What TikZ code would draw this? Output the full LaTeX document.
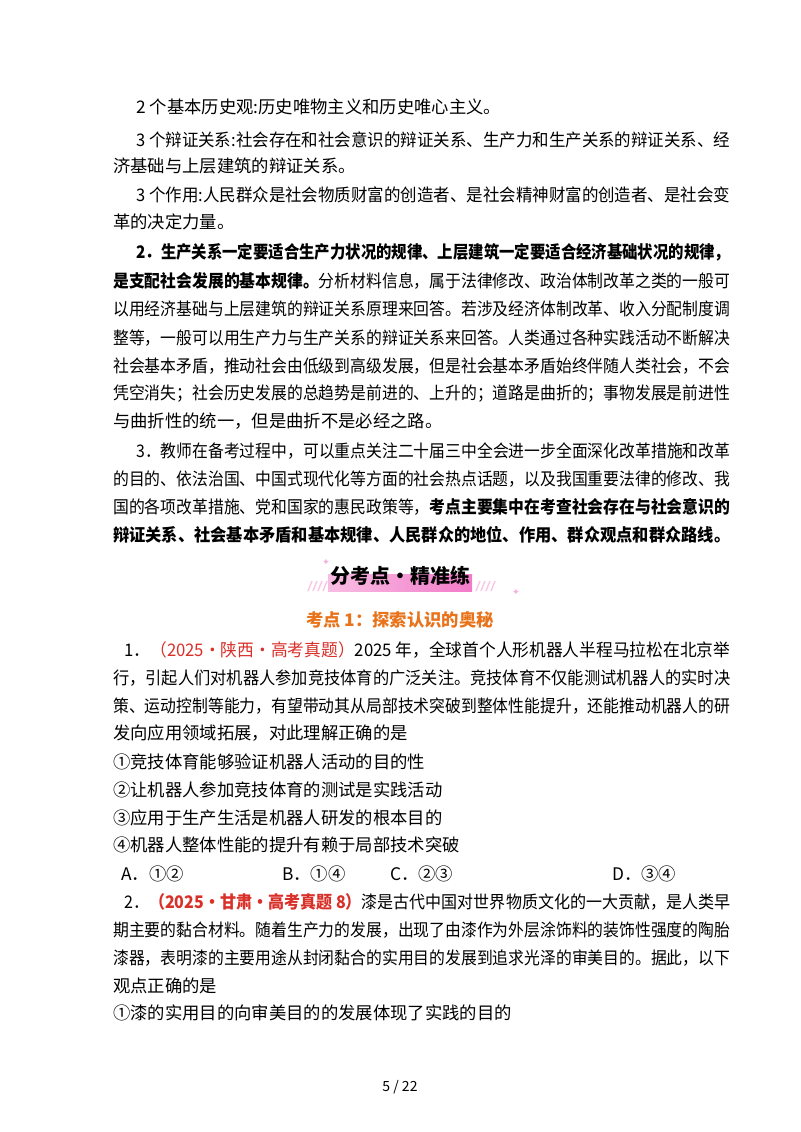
\documentclass[tikz,border=0pt]{standalone}
\usepackage{fontspec}
\setmainfont{Noto Sans CJK SC}
\newfontfamily\dejavu{DejaVu Sans}
\newcommand\fitA[1]{\resizebox{462.75pt}{\height}{#1}}
\newcommand\fitB[1]{\resizebox{445.5pt}{\height}{#1}}
\newcommand\fitC[1]{\resizebox{454.5pt}{\height}{#1}}
\begin{document}
\begin{tikzpicture}[x=0.75pt,y=-0.75pt,
  ln/.style={anchor=west,inner sep=0pt,font=\fontsize{13}{14}\selectfont},
  bl/.style={ln,font=\fontsize{13}{14}\selectfont\bfseries}]
\definecolor{org}{HTML}{E8731A}
\definecolor{rd}{HTML}{D9302A}
\definecolor{pk}{HTML}{F27BC8}
\useasboundingbox[fill=white] (0,0) rectangle (800,1132);
\node[ln] (l1) at (136,107) {2 个基本历史观:历史唯物主义和历史唯心主义。};
\node[ln] (l2) at (136,140) {\fitB{3 个辩证关系:社会存在和社会意识的辩证关系、生产力和生产关系的辩证关系、经}};
\node[ln] (l3) at (113,166) {济基础与上层建筑的辩证关系。};
\node[ln] (l4) at (136,195) {\fitB{3 个作用:人民群众是社会物质财富的创造者、是社会精神财富的创造者、是社会变}};
\node[ln] (l5) at (113,222) {革的决定力量。};
\node[bl] (l6) at (136,252) {\fitB{2．生产关系一定要适合生产力状况的规律、上层建筑一定要适合经济基础状况的规律，}};
\node[ln] (l7) at (113,281) {\fitA{\textbf{是支配社会发展的基本规律。}分析材料信息，属于法律修改、政治体制改革之类的一般可}};
\node[ln] (l8) at (113,309) {\fitA{以用经济基础与上层建筑的辩证关系原理来回答。若涉及经济体制改革、收入分配制度调}};
\node[ln] (l9) at (113,338) {\fitA{整等，一般可以用生产力与生产关系的辩证关系来回答。人类通过各种实践活动不断解决}};
\node[ln] (l10) at (113,366) {\fitA{社会基本矛盾，推动社会由低级到高级发展，但是社会基本矛盾始终伴随人类社会，不会}};
\node[ln] (l11) at (113,394) {\fitA{凭空消失；社会历史发展的总趋势是前进的、上升的；道路是曲折的；事物发展是前进性}};
\node[ln] (l12) at (113,421) {与曲折性的统一，但是曲折不是必经之路。};
\node[ln] (l13) at (136,451) {\fitB{3．教师在备考过程中，可以重点关注二十届三中全会进一步全面深化改革措施和改革}};
\node[ln] (l14) at (113,479) {\fitA{的目的、依法治国、中国式现代化等方面的社会热点话题，以及我国重要法律的修改、我}};
\node[ln] (l15) at (113,507) {\fitA{国的各项改革措施、党和国家的惠民政策等，\textbf{考点主要集中在考查社会存在与社会意识的}}};
\node[bl] (l16) at (113,535) {\fitA{辩证关系、社会基本矛盾和基本规律、人民群众的地位、作用、群众观点和群众路线。}};
% banner
\shade[left color=pk!50, right color=pk] (328,574) rectangle (472,591);
\foreach \i in {0,5,10,15} {\draw[pk!45,line width=1pt] (308+\i,591) -- (312+\i,581); \draw[pk!45,line width=1pt] (476+\i,591) -- (480+\i,581);}
\node[pk!60,font=\dejavu\scriptsize] (s1) at (326,562) {✦};
\node[pk!60,font=\dejavu\scriptsize] (s2) at (516,592) {✦};
\node[font=\fontsize{15}{16}\selectfont\bfseries] (ban) at (400,576) {分考点·精准练};
\node[font=\fontsize{13}{14}\selectfont\bfseries,text=org] (h1) at (400,620) {考点 1：探索认识的奥秘};
\node[ln] (q1) at (124,650) {\fitC{1．\textcolor{rd}{（2025·陕西·高考真题）}2025 年，全球首个人形机器人半程马拉松在北京举}};
\node[ln] (q2) at (113,678) {\fitA{行，引起人们对机器人参加竞技体育的广泛关注。竞技体育不仅能测试机器人的实时决}};
\node[ln] (q3) at (113,706) {\fitA{策、运动控制等能力，有望带动其从局部技术突破到整体性能提升，还能推动机器人的研}};
\node[ln] (q4) at (113,733) {发向应用领域拓展，对此理解正确的是};
\node[ln] (o1) at (113,762) {①竞技体育能够验证机器人活动的目的性};
\node[ln] (o2) at (113,790) {②让机器人参加竞技体育的测试是实践活动};
\node[ln] (o3) at (113,818) {③应用于生产生活是机器人研发的根本目的};
\node[ln] (o4) at (113,845) {④机器人整体性能的提升有赖于局部技术突破};
\node[ln] (a) at (121,874) {A．①②};
\node[ln] (b) at (282,874) {B．①④};
\node[ln] (c) at (390,874) {C．②③};
\node[ln] (d) at (612,874) {D．③④};
\node[ln] (p1) at (124,902) {\fitC{2．\textcolor{rd}{\textbf{（2025·甘肃·高考真题 8）}}漆是古代中国对世界物质文化的一大贡献，是人类早}};
\node[ln] (p2) at (113,930) {\fitA{期主要的黏合材料。随着生产力的发展，出现了由漆作为外层涂饰料的装饰性强度的陶胎}};
\node[ln] (p3) at (113,958) {\fitA{漆器，表明漆的主要用途从封闭黏合的实用目的发展到追求光泽的审美目的。据此，以下}};
\node[ln] (p4) at (113,986) {观点正确的是};
\node[ln] (p5) at (113,1013) {①漆的实用目的向审美目的的发展体现了实践的目的};
\node[font=\fontsize{10.5}{12}\selectfont] (pg) at (400,1087) {5 / 22};
\end{tikzpicture}
\end{document}
